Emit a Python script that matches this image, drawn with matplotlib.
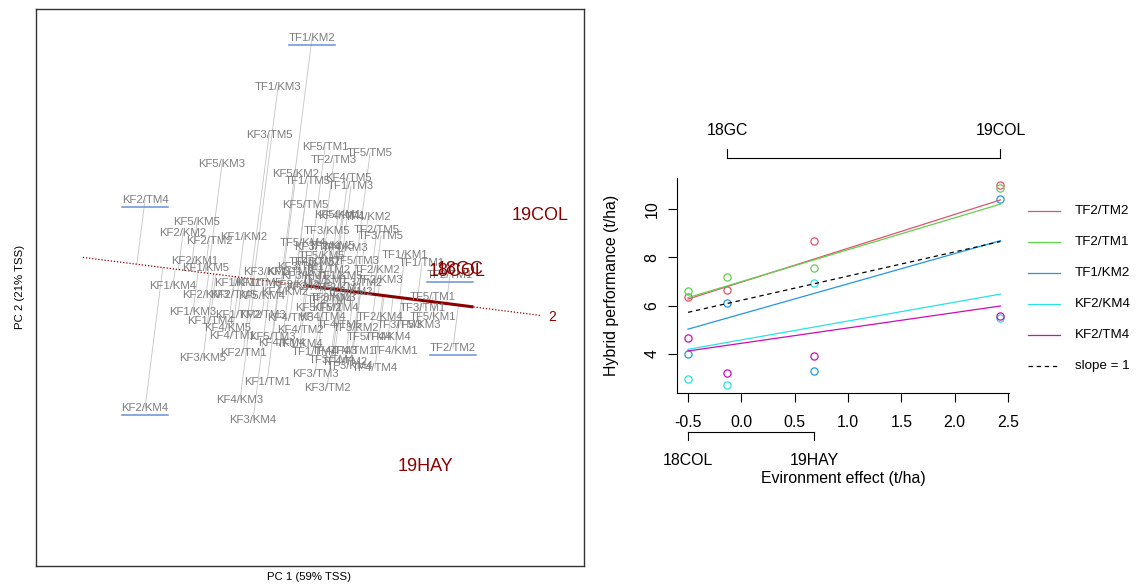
import numpy as np
import matplotlib.pyplot as plt

plt.rcParams['font.family'] = ['Liberation Sans', 'DejaVu Sans']
plt.rcParams['axes.unicode_minus'] = False

# ---- GGE biplot scores (mean vs stability view) ----
genotype = [
    "KF1/KM1", "KF1/KM2", "KF1/KM3", "KF1/KM4", "KF1/KM5",
    "KF2/KM1", "KF2/KM2", "KF2/KM3", "KF2/KM4", "KF2/KM5",
    "KF3/KM1", "KF3/KM2", "KF3/KM3", "KF3/KM4", "KF3/KM5",
    "KF4/KM1", "KF4/KM2", "KF4/KM3", "KF4/KM4", "KF4/KM5",
    "KF5/KM1", "KF5/KM2", "KF5/KM3", "KF5/KM4", "KF5/KM5",
    "KF1/TM1", "KF1/TM2", "KF1/TM3", "KF1/TM4", "KF1/TM5",
    "KF2/TM1", "KF2/TM2", "KF2/TM3", "KF2/TM4", "KF2/TM5",
    "KF3/TM1", "KF3/TM2", "KF3/TM3", "KF3/TM4", "KF3/TM5",
    "KF4/TM1", "KF4/TM2", "KF4/TM3", "KF4/TM4", "KF4/TM5",
    "KF5/TM1", "KF5/TM2", "KF5/TM3", "KF5/TM4", "KF5/TM5",
    "TF1/KM1", "TF1/KM2", "TF1/KM3", "TF1/KM4", "TF1/KM5",
    "TF2/KM1", "TF2/KM2", "TF2/KM3", "TF2/KM4", "TF2/KM5",
    "TF3/KM1", "TF3/KM2", "TF3/KM3", "TF3/KM4", "TF3/KM5",
    "TF4/KM1", "TF4/KM2", "TF4/KM3", "TF4/KM4", "TF4/KM5",
    "TF5/KM1", "TF5/KM2", "TF5/KM3", "TF5/KM4", "TF5/KM5",
    "TF1/TM1", "TF1/TM2", "TF1/TM3", "TF1/TM4", "TF1/TM5",
    "TF2/TM1", "TF2/TM2", "TF2/TM3", "TF2/TM4", "TF2/TM5",
    "TF3/TM1", "TF3/TM2", "TF3/TM3", "TF3/TM4", "TF3/TM5",
    "TF4/TM1", "TF4/TM2", "TF4/TM3", "TF4/TM4", "TF4/TM5",
    "TF5/TM1", "TF5/TM2", "TF5/TM3", "TF5/TM4", "TF5/TM5",
]
pc1 = [
    -0.70, -0.64, -1.15, -1.35, -1.02, -1.13, -1.25, -1.02, -1.63, 0.02,
    -0.03, -0.12, -0.41, -0.55, -1.05, 0.34, -0.23, -0.68, -0.26, -0.80,
    0.30, -0.12, -0.86, -0.46, -1.11,
    -0.41, -0.70, -0.18, -0.98, -0.50, -0.65, -0.99, -0.46, -1.63, -0.75,
    -0.08, 0.19, 0.07, 0.09, -0.39, -0.76, -0.08, -0.18, 0.14, 0.40,
    0.17, 0.10, -0.36, 0.27, -0.03,
    0.97, 0.04, -0.30, -0.08, 0.32, 0.32, 0.69, 0.72, 0.72, 0.24,
    0.17, 0.48, 0.25, 0.42, 0.19, 0.87, 0.60, 0.37, 0.80, 0.04,
    1.25, 0.42, 1.10, -0.05, 0.14,
    1.14, 0.20, 0.43, 0.07, 0.00, 1.42, 1.45, 0.26, 0.22, 0.69,
    1.15, 0.52, 0.92, 0.24, 0.73, 0.45, 0.37, 0.27, 0.67, 0.32,
    1.25, 0.10, 0.49, 0.62, 0.62,
]
pc2 = [
    0.03, 0.49, -0.26, 0.00, 0.18, 0.25, 0.53, -0.09, -1.22, -0.01,
    0.10, 0.01, 0.14, -1.34, -0.72, 0.70, -0.06, -1.14, -0.57, -0.42,
    0.71, 1.12, 1.22, -0.10, 0.64,
    -0.96, -0.29, 0.14, -0.35, 0.03, -0.67, 0.45, -0.29, 0.86, -0.09,
    0.19, -1.02, -0.88, 0.39, 1.51, -0.50, -0.44, -0.32, -0.31, 1.08,
    1.39, -0.22, -0.51, -0.22, 0.81,
    0.31, 2.48, 1.99, -0.58, 0.10, -0.02, 0.16, 0.06, -0.31, 0.40,
    0.06, -0.42, -0.12, -0.80, 0.55, -0.65, 0.69, 0.38, -0.51, 0.24,
    -0.31, -0.06, -0.39, 0.43, 0.30,
    0.23, 0.16, 1.00, -0.66, 1.05, 0.11, -0.62, 1.26, -0.14, 0.56,
    -0.22, 0.03, -0.39, -0.74, 0.50, -0.65, -0.76, -0.65, -0.82, -0.39,
    -0.11, 0.24, 0.25, -0.51, 1.33,
]

env = ["19COL", "18GC", "18COL", "19HAY"]
env_pc1 = [2.32, 1.52, 1.49, 1.17]
env_pc2 = [0.70, 0.16, 0.14, -1.81]

# average environment coordinate
aec = np.array([1.64, -0.208])

# ---- Finlay-Wilkinson regression ----
env_order = ["18COL", "18GC", "19HAY", "19COL"]
env_effect = [-0.50, -0.13, 0.68, 2.43]
hybrids = ["TF2/TM2", "TF2/TM1", "TF1/KM2", "KF2/KM4", "KF2/TM4"]
perf = {
    "TF2/TM2": [6.34, 6.65, 8.69, 11.00],
    "TF2/TM1": [6.59, 7.18, 7.57, 10.86],
    "TF1/KM2": [3.98, 6.10, 3.28, 10.40],
    "KF2/KM4": [2.95, 2.72, 6.94, 5.50],
    "KF2/TM4": [4.67, 3.20, 3.90, 5.55],
}
fit_intercept = [6.97, 6.99, 5.65, 4.58, 4.44]
fit_slope = [1.40, 1.32, 1.25, 0.78, 0.635]
ref_intercept = 6.22
hyb_colors = ["#DF536B", "#61D04F", "#2297E6", "#28E2E5", "#CD0BBC"]

darkred = "#8B0000"
gray_txt = "#7c7c7c"

fig = plt.figure(figsize=(11.44, 5.84), dpi=100)

# ================= left: biplot =================
ax1 = fig.add_axes([0.0315, 0.0308, 0.479, 0.954])
ax1.set_xlim(-2.72, 2.76)
ax1.set_ylim(-2.80, 2.77)
ax1.set_xticks([])
ax1.set_yticks([])
for sp in ax1.spines.values():
    sp.set_linewidth(1.0)
    sp.set_color("#333333")

u = aec / np.linalg.norm(aec)
g = np.column_stack([pc1, pc2])

# projections of each genotype onto the AEC abscissa
for p in g:
    q = np.dot(p, u) * u
    ax1.plot([p[0], q[0]], [p[1], q[1]], color="#c4c4c4", lw=0.6, zorder=1)

t = np.array([-2.27, 2.34])
ax1.plot(t * u[0], t * u[1], color=darkred, lw=0.9, ls=(0, (1, 1.5)), zorder=2)
ax1.plot([0, aec[0]], [0, aec[1]], color=darkred, lw=2.2, zorder=2)
ax1.text(2.44, -0.31, "2", color=darkred, fontsize=10, ha="center", va="center")

for name, x, y in zip(genotype, pc1, pc2):
    ax1.text(x, y, name, color=gray_txt, fontsize=8.2, ha="center", va="center", zorder=3)
    if name in hybrids:
        ax1.plot([x - 0.23, x + 0.23], [y - 0.075, y - 0.075], color="#6a8fd8", lw=1.1, zorder=3)

for name, x, y in zip(env, env_pc1, env_pc2):
    ax1.text(x, y, name, color=darkred, fontsize=13, ha="center", va="center", zorder=4)

fig.text(309 / 1144, 1 - 577 / 584, "PC 1 (59% TSS)", fontsize=8.2, ha="center", va="center")
fig.text(20 / 1144, 1 - 287 / 584, "PC 2 (21% TSS)", fontsize=8.2, ha="center", va="center",
         rotation=90)

# ================= right: regression on environment effect =================
ax2 = fig.add_axes([0.5918, 0.3271, 0.2902, 0.3682])
ax2.set_xlim(-0.603, 2.51)
ax2.set_ylim(2.385, 11.28)
ax2.spines["top"].set_visible(False)
ax2.spines["right"].set_visible(False)
ax2.set_xticks([-0.5, 0.0, 0.5, 1.0, 1.5, 2.0, 2.5])
ax2.set_xticklabels(["-0.5", "0.0", "0.5", "1.0", "1.5", "2.0", "2.5"])
ax2.set_yticks([4, 6, 8, 10])
ax2.tick_params(direction="out", length=6.5, width=0.8, labelsize=11.4)
ax2.tick_params(axis="x", pad=9)
ax2.tick_params(axis="y", pad=6)
for lab in ax2.get_yticklabels():
    lab.set_rotation(90)
    lab.set_va("center")

ex = np.array(env_effect)
xr = np.array([ex.min(), ex.max()])
for h, a, b, c in zip(hybrids, fit_intercept, fit_slope, hyb_colors):
    ax2.plot(xr, a + b * xr, color=c, lw=0.9)
    ax2.plot(ex, perf[h], "o", mfc="none", mec=c, ms=5.2, mew=0.9)
ax2.plot(xr, ref_intercept + xr, color="black", lw=0.9, ls=(0, (3.5, 3)))

ax2.text(-0.196, 0.5, "Hybrid performance (t/ha)", rotation=90, ha="center", va="center",
         fontsize=11.4, transform=ax2.transAxes)
ax2.text(0.5, -0.40, "Evironment effect (t/ha)", ha="center", va="center",
         fontsize=11.4, transform=ax2.transAxes)

# environment labels on alternating bracket axes
tr = ax2.get_xaxis_transform()
top_env = [env_effect[1], env_effect[3]]
top_lab = [env_order[1], env_order[3]]
bot_env = [env_effect[0], env_effect[2]]
bot_lab = [env_order[0], env_order[2]]

ax2.plot(top_env, [1.093, 1.093], color="black", lw=0.8, transform=tr, clip_on=False)
for x, lab in zip(top_env, top_lab):
    ax2.plot([x, x], [1.093, 1.135], color="black", lw=0.8, transform=tr, clip_on=False)
    ax2.text(x, 1.219, lab, ha="center", va="center", fontsize=11.4, transform=tr)

ax2.plot(bot_env, [-0.181, -0.181], color="black", lw=0.8, transform=tr, clip_on=False)
for x, lab in zip(bot_env, bot_lab):
    ax2.plot([x, x], [-0.181, -0.219], color="black", lw=0.8, transform=tr, clip_on=False)
    ax2.text(x, -0.312, lab, ha="center", va="center", fontsize=11.4, transform=tr)

# legend outside the plot region
leg_labels = hybrids + ["slope = 1"]
leg_colors = hyb_colors + ["black"]
for i, (lab, c) in enumerate(zip(leg_labels, leg_colors)):
    y = 0.847 - i * 0.1442
    ls = (0, (3.5, 3)) if lab == "slope = 1" else "-"
    ax2.plot([1.057, 1.154], [y, y], color=c, lw=0.9, ls=ls, transform=ax2.transAxes, clip_on=False)
    ax2.text(1.199, y, lab, ha="left", va="center", fontsize=9.6, transform=ax2.transAxes)

fig.savefig("out.png", dpi=100)
